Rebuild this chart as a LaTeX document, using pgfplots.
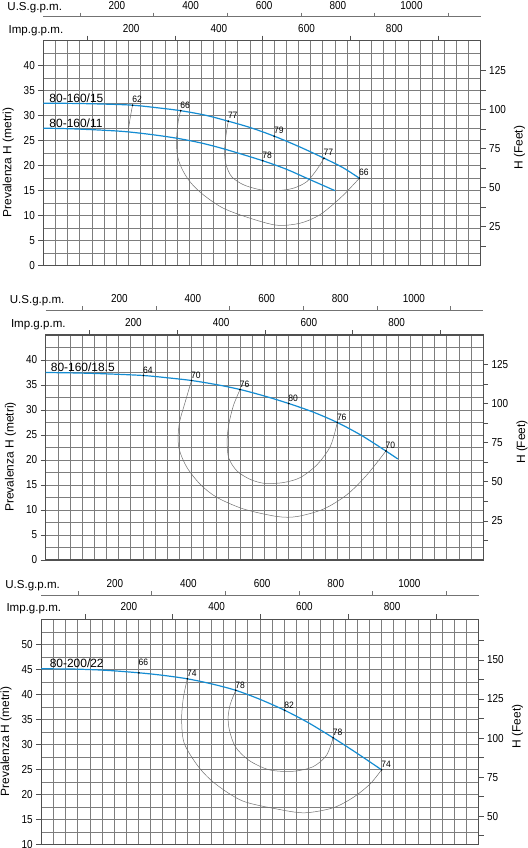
\documentclass[border=0pt]{standalone}
\usepackage{fontspec}
\setmainfont{Liberation Sans}
\newfontfamily\narrowfont[FakeStretch=0.86]{Liberation Sans}
\newfontfamily\namefont[FakeStretch=0.92]{Liberation Sans}
\usepackage{pgfplots}
\pgfplotsset{compat=1.18}
\definecolor{curveblue}{RGB}{20,140,210}
\definecolor{effgray}{RGB}{110,110,110}
\definecolor{gridgray}{RGB}{125,125,125}
\definecolor{framegray}{RGB}{80,80,80}
\newcommand\tickfont{\narrowfont\fontsize{11.6}{13}\selectfont}
\newcommand\namefnt{\fontsize{12}{14}\selectfont}
\newcommand\efffont{\namefont\fontsize{9.3}{11}\selectfont}
\newcommand\gpmfont{\fontsize{11.6}{13}\selectfont}
\newcommand\labfont{\fontsize{12}{14}\selectfont}
\pgfplotsset{
  base/.style={scale only axis, width=437.4bp, anchor=north west, clip=false,
    /pgf/number format/assume math mode=true,
    /pgf/number format/1000 sep={},
    tick label style={font=\tickfont, text=black},
    tick align=outside,
    axis line style={framegray, line width=1.1bp},
    tick style={framegray, line width=0.8bp}},
  mainax/.style={base, xmin=0, xmax=270, height=225bp,
    xtick={0,7.5,...,270}, xticklabels={},
    xtick style={draw=none},
    ytick pos=left,
    grid=both,
    major grid style={gridgray, line width=0.6bp},
    minor grid style={gridgray, line width=0.6bp},
    major tick length=5bp, minor tick length=0bp},
  rightax/.style={base, xmin=0, xmax=997, height=225bp,
    axis x line*=top, axis y line*=right,
    xtick={200,400,600,800}, minor xtick={100,300,500,700,900},
    major x tick style={draw=none},
    major tick length=5bp, minor tick length=5bp},
  usax/.style={base, xmin=0, xmax=1188, ymin=0, ymax=1, height=5bp,
    axis x line*=top, axis y line=none, ytick=\empty,
    xtick={200,400,600,800,1000}, minor xtick={100,300,500,700,900,1100},
    major x tick style={draw=none},
    axis line style={black!55, line width=0.8bp},
    tick style={black!55, line width=0.8bp},
    major tick length=4bp, minor tick length=4bp},
  pump/.style={curveblue, line width=1.2bp, smooth},
  eff/.style={effgray, line width=0.5bp, smooth},
  effpts/.style={only marks, mark=*, mark size=0.6bp, black,
    nodes near coords={\pgfplotspointmeta}, point meta=explicit symbolic,
    nodes near coords style={anchor=base west, font=\efffont, inner sep=0pt, xshift=-0.5bp, yshift=2.2bp}},
}
\begin{document}
\begin{tikzpicture}
%================ PANEL 1 ================
\begin{axis}[mainax, at={(43.3bp,-40.7bp)}, ymin=0, ymax=45,
  ytick={0,5,...,40}, minor ytick={2.5,7.5,...,42.5}]
\addplot[eff] coordinates {(55.1,32.1) (53.6,29.5) (52.4,26.9)};
\addplot[eff] coordinates {(84.8,31.0) (83.3,28.9) (82.3,25.5) (82.7,22.2) (85.4,19.5) (90.5,16.8) (98.7,14.2) (111.1,11.5) (127.6,9.5) (144.1,8.1) (158.5,8.5) (170.8,10.2) (183.2,13.5) (191.4,16.2) (195.1,17.5)};
\addplot[eff] coordinates {(114.2,28.9) (112.8,26.2) (111.9,22.9) (112.8,20.2) (116.3,17.8) (123.5,16.2) (133.8,15.2) (144.1,15.0) (154.4,15.5) (162.6,16.8) (168.8,19.2) (173.3,21.5)};
\addplot[pump] coordinates {(0,32.5) (20,32.45) (40,32.3) (55.1,32.1) (70,31.6) (84.8,31.0) (100,30.1) (114.2,28.9) (128,27.6) (142.6,25.9) (158,23.8) (173.3,21.5) (185,19.6) (195.1,17.5)};
\addplot[pump] coordinates {(0,27.5) (20,27.35) (47.3,26.9) (65,26.3) (82.3,25.5) (98,24.5) (113.2,23.2) (135.4,21.0) (150,19.3) (162.6,17.5) (180.1,15.0)};
\addplot[effpts] table[meta=l] {
x y l
55.1 32.1 62
84.8 31.0 66
114.2 28.9 77
142.6 25.9 79
173.3 21.5 77
195.1 17.5 66
135.4 21.0 78
};
\node[anchor=base west, font=\namefnt, inner sep=0pt, xshift=6bp, yshift=1bp] at (axis cs:0,32.5) {80-160/15};
\node[anchor=base west, font=\namefnt, inner sep=0pt, xshift=6bp, yshift=1bp] at (axis cs:0,27.5) {80-160/11};
\node[xshift=-32bp, yshift=-9.5bp, rotate=90, anchor=base, font=\labfont] at (rel axis cs:0,0.5) {Prevalenza H (metri)};
\end{axis}
\begin{axis}[rightax, at={(43.3bp,-40.7bp)}, ymin=0, ymax=144,
  ytick={25,50,...,125}, minor ytick={12.5,37.5,...,112.5}]
\addplot[draw=none] coordinates {(0,0)};
\node[anchor=base west, font=\gpmfont, xshift=-38.2bp, yshift=7.5bp] at (rel axis cs:0,1) {Imp.g.p.m.};
\node[xshift=42bp, yshift=5.5bp, rotate=90, anchor=base, font=\labfont] at (rel axis cs:1,0.5) {H (Feet)};
\end{axis}
\begin{axis}[usax, at={(43.3bp,-16.7bp)}]
\addplot[draw=none] coordinates {(0,0)};
\node[anchor=base west, font=\gpmfont, xshift=-39.4bp, yshift=6.7bp] at (rel axis cs:0,1) {U.S.g.p.m.};
\end{axis}
%================ PANEL 2 ================
\begin{axis}[mainax, at={(45.7bp,-335bp)}, ymin=0, ymax=45,
  ytick={0,5,...,40}, minor ytick={2.5,7.5,...,42.5}]
\addplot[eff] coordinates {(90.0,35.9) (86.2,31.7) (82.7,27.7) (81.7,24.4) (82.7,21.8) (87.2,18.5) (95.5,15.1) (105.8,12.5) (122.2,10.2) (142.8,8.7) (155.2,8.7) (171.6,10.2) (186.1,13.1) (198.5,17.1) (210.0,21.8)};
\addplot[eff] coordinates {(120.0,34.1) (116.0,31.0) (113.0,27.1) (112.0,23.7) (113.0,20.4) (118.1,17.8) (126.4,16.1) (135.6,15.3) (146.9,15.5) (157.2,16.5) (167.6,19.1) (175.8,22.8) (180.0,27.5)};
\addplot[pump] coordinates {(0,37.5) (20,37.4) (40,37.2) (60.3,36.9) (75,36.45) (90,35.9) (105,35.1) (120,34.1) (135,32.8) (150,31.3) (165,29.6) (180,27.5) (195,24.9) (210,21.8) (217.4,20.2)};
\addplot[effpts] table[meta=l] {
x y l
60.3 36.9 64
90.0 35.9 70
120.0 34.1 76
150.0 31.3 80
180.0 27.5 76
210.0 21.8 70
};
\node[anchor=base west, font=\namefnt, inner sep=0pt, xshift=5bp, yshift=1.2bp] at (axis cs:0,37.5) {80-160/18.5};
\node[xshift=-32bp, yshift=-9.5bp, rotate=90, anchor=base, font=\labfont] at (rel axis cs:0,0.5) {Prevalenza H (metri)};
\end{axis}
\begin{axis}[rightax, at={(45.7bp,-335bp)}, ymin=0, ymax=144,
  ytick={25,50,...,125}, minor ytick={12.5,37.5,...,112.5}]
\addplot[draw=none] coordinates {(0,0)};
\node[anchor=base west, font=\gpmfont, xshift=-38.2bp, yshift=7.5bp] at (rel axis cs:0,1) {Imp.g.p.m.};
\node[xshift=42bp, yshift=5.5bp, rotate=90, anchor=base, font=\labfont] at (rel axis cs:1,0.5) {H (Feet)};
\end{axis}
\begin{axis}[usax, at={(45.7bp,-310bp)}]
\addplot[draw=none] coordinates {(0,0)};
\node[anchor=base west, font=\gpmfont, xshift=-39.4bp, yshift=6.7bp] at (rel axis cs:0,1) {U.S.g.p.m.};
\end{axis}
%================ PANEL 3 ================
\begin{axis}[mainax, at={(41.2bp,-619.3bp)}, ymin=10, ymax=55,
  ytick={10,15,...,50}, minor ytick={12.5,17.5,...,52.5}]
\addplot[eff] coordinates {(90.2,43.1) (87.7,39.2) (86.7,34.9) (88.3,30.2) (97.1,25.5) (107.5,22.1) (124.1,18.7) (144.9,17.1) (162.5,16.3) (180.2,17.3) (192.7,19.4) (203.1,22.1) (210.1,24.9)};
\addplot[eff] coordinates {(120.1,40.8) (116.8,38.1) (115.4,35.5) (116.2,32.8) (119.9,29.5) (128.2,26.8) (140.7,24.9) (155.3,24.6) (167.7,25.5) (176.1,27.8) (180.2,31.3)};
\addplot[pump] coordinates {(0,45.1) (20,45.05) (40,44.8) (60.3,44.3) (75,43.8) (90.2,43.1) (105,42.1) (120.1,40.8) (135,39.0) (150.3,36.8) (165,34.3) (180.2,31.3) (195,28.2) (210.1,24.9)};
\addplot[effpts] table[meta=l] {
x y l
90.2 43.1 74
120.1 40.8 78
150.3 36.8 82
180.2 31.3 78
210.1 24.9 74
};
\addplot[effpts, nodes near coords style={yshift=5.5bp}] table[meta=l] {
x y l
60.3 44.3 66
};
\node[anchor=base west, font=\namefnt, inner sep=0pt, xshift=8.4bp, yshift=1bp] at (axis cs:0,45.1) {80-200/22};
\node[xshift=-32bp, yshift=-9.5bp, rotate=90, anchor=base, font=\labfont] at (rel axis cs:0,0.5) {Prevalenza H (metri)};
\end{axis}
\begin{axis}[rightax, at={(41.2bp,-619.3bp)}, ymin=32, ymax=176,
  ytick={50,75,...,150}, minor ytick={37.5,62.5,...,162.5}]
\addplot[draw=none] coordinates {(0,32)};
\node[anchor=base west, font=\gpmfont, xshift=-38.2bp, yshift=7.5bp] at (rel axis cs:0,1) {Imp.g.p.m.};
\node[xshift=42bp, yshift=5.5bp, rotate=90, anchor=base, font=\labfont] at (rel axis cs:1,0.5) {H (Feet)};
\end{axis}
\begin{axis}[usax, at={(41.2bp,-595.3bp)}]
\addplot[draw=none] coordinates {(0,0)};
\node[anchor=base west, font=\gpmfont, xshift=-39.4bp, yshift=6.7bp] at (rel axis cs:0,1) {U.S.g.p.m.};
\end{axis}
\pgfresetboundingbox
\path[use as bounding box] (0,0) rectangle (528bp,-848bp);
\end{tikzpicture}
\end{document}
